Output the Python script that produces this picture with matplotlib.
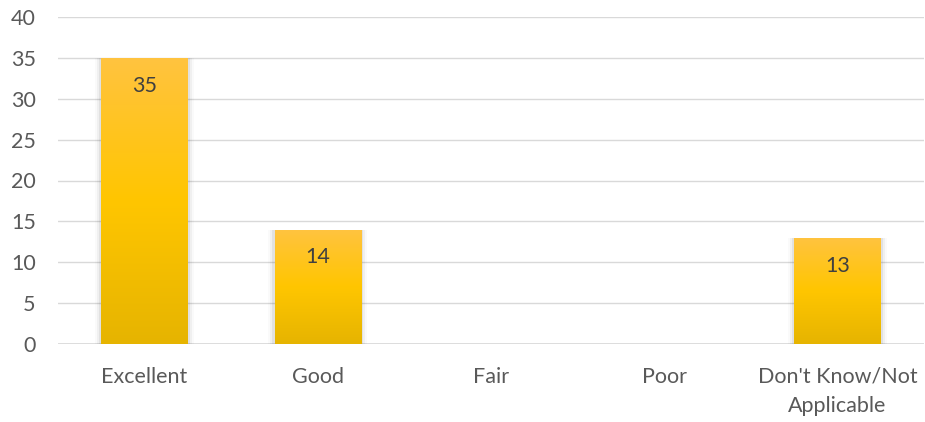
import matplotlib
matplotlib.use("Agg")
import matplotlib.pyplot as plt
import numpy as np
from matplotlib.colors import LinearSegmentedColormap

categories = ["Excellent", "Good", "Fair", "Poor", "Don't Know/Not\nApplicable"]
values = [35, 14, 0, 0, 13]
yticks = [0, 5, 10, 15, 20, 25, 30, 35, 40]

plt.rcParams['font.family'] = ['Lato', 'DejaVu Sans']

fig = plt.figure(figsize=(9.25, 4.22), dpi=100)
ax = fig.add_axes([58/925, 1-344/422, (924-58)/925, (344-17)/422])

x = np.arange(len(categories))
bars = ax.bar(x, values, width=0.5, color='#FFC000', zorder=3)

cmap = LinearSegmentedColormap.from_list('g', ['#E6B400', '#FFC600', '#FFC340'])
grad = np.linspace(0, 1, 256).reshape(-1, 1)
for b, v in zip(bars, values):
    if v <= 0:
        continue
    bx, bw = b.get_x(), b.get_width()
    # soft shadow
    for i, a in enumerate([0.06, 0.04, 0.02]):
        d = 0.012 * (i + 1)
        ax.add_patch(plt.Rectangle((bx - d, -0.4 - 0.15*i), bw + 2*d, v + 0.4 + 0.15*i,
                                   color='black', alpha=a, lw=0, zorder=2))
    im = ax.imshow(grad, extent=[bx, bx + bw, 0, v], origin='lower', aspect='auto',
                   cmap=cmap, zorder=4)
    im.set_clip_path(b)
    ax.text(b.get_x() + bw/2, v - 3.4, str(v), ha='center', va='center',
            fontsize=15.5, color='#404040', zorder=5)

ax.set_xlim(-0.5, len(categories) - 0.5)
ax.set_ylim(0, 40)
ax.set_yticks(yticks)
ax.set_xticks(x)
ax.set_xticklabels(categories, fontsize=15.5, color='#595959', linespacing=1.55)
ax.tick_params(axis='y', labelsize=15.5, labelcolor='#595959', length=0, pad=16)
ax.tick_params(axis='x', length=0, pad=16.5)
ax.grid(axis='y', color='#D9D9D9', lw=1, zorder=0)
for s in ax.spines.values():
    s.set_visible(False)
ax.axhline(0, color='#D9D9D9', lw=1.2, zorder=1)

fig.savefig('out.png', dpi=100)
